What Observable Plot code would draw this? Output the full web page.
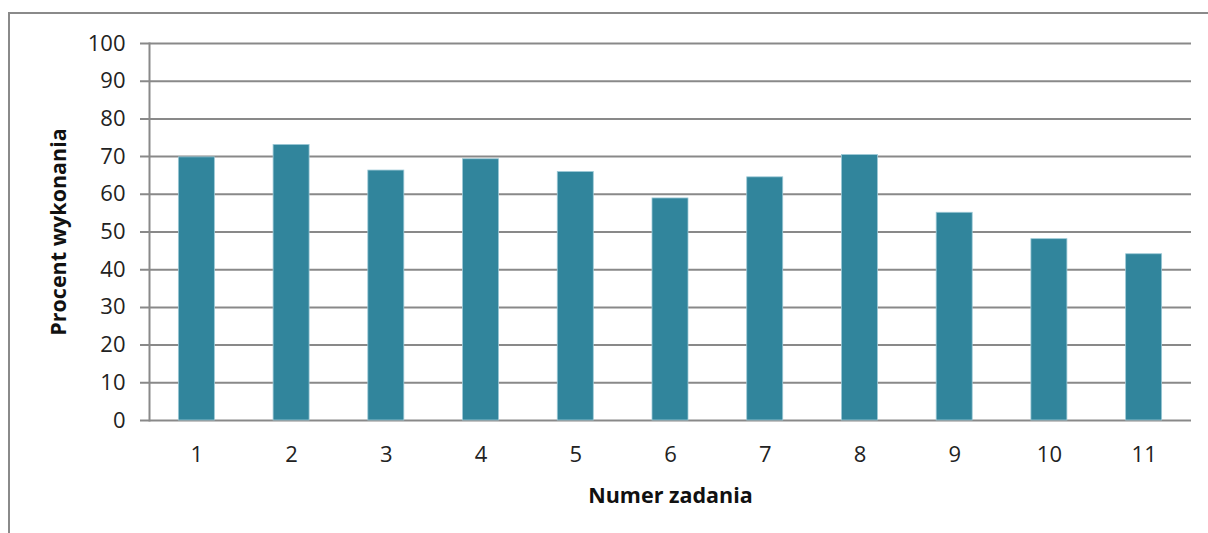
<!DOCTYPE html>
<html>
<head>
<meta charset="utf-8">
<script src="https://cdn.jsdelivr.net/npm/d3@7"></script>
<script src="https://cdn.jsdelivr.net/npm/@observablehq/plot@0.6"></script>
<style>
  html, body { margin: 0; padding: 0; background: #fff; }
  #wrap { position: relative; width: 1208px; height: 533px; overflow: hidden; }
  #border { position: absolute; left: 8px; top: 12px; width: 1300px; height: 700px; border: 2px solid #8a8a8a; box-sizing: border-box; }
  #chart { position: absolute; left: 0; top: 0; }
</style>
</head>
<body>
<div id="wrap"><div id="border"></div><div id="chart"></div></div>
<script>
const tasks = ["1", "2", "3", "4", "5", "6", "7", "8", "9", "10", "11"];
const percents = [69.8, 73.1, 66.3, 69.3, 65.9, 58.9, 64.5, 70.4, 55.1, 48.1, 44.1];
const yTicks = [0, 10, 20, 30, 40, 50, 60, 70, 80, 90, 100];

const data = tasks.map((t, i) => ({task: t, value: percents[i]}));

const chart = Plot.plot({
  width: 1208,
  height: 533,
  marginLeft: 149,
  marginRight: 17,
  marginTop: 43,
  marginBottom: 113,
  style: {fontFamily: "'Open Sans', sans-serif", fontSize: "22px", color: "#222", background: "transparent"},
  x: {domain: tasks, paddingInner: 0.62, paddingOuter: 0.31, round: false, label: null},
  y: {domain: [0, 100], label: null},
  marks: [
    Plot.ruleY(yTicks, {y: d => d, stroke: "#898989", strokeWidth: 2, strokeOpacity: 1, insetLeft: -9}),
    Plot.frame({anchor: "left", stroke: "#898989", strokeWidth: 2, strokeOpacity: 1}),
    Plot.barY(data, {x: "task", y: "value", fill: "#31859c", stroke: "#9cc9d6", strokeWidth: 0.8}),
    Plot.axisY({ticks: yTicks, tickSize: 0, tickPadding: 24, label: "Procent wykonania", labelAnchor: "center", labelArrow: "none", labelOffset: 99, fontSize: 22}),
    Plot.axisX({tickSize: 0, tickPadding: 26, label: "Numer zadania", labelAnchor: "center", labelArrow: "none", labelOffset: 82, fontSize: 22})
  ]
});
document.getElementById("chart").appendChild(chart);
// bold axis titles
chart.querySelectorAll("g[aria-label='y-axis label'] text, g[aria-label='x-axis label'] text").forEach(t => {
  t.setAttribute("font-weight", "bold");
  t.setAttribute("font-size", "21.5");
  t.setAttribute("fill", "#111");
});
</script>
</body>
</html>
